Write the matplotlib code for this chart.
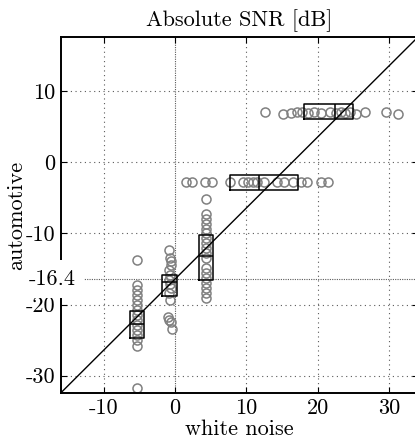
import matplotlib
matplotlib.use("Agg")
import matplotlib.pyplot as plt
import matplotlib.transforms as mtransforms

plt.rcParams['font.family'] = ['cmr10', 'DejaVu Serif']
plt.rcParams['mathtext.fontset'] = 'cm'
plt.rcParams['axes.formatter.use_mathtext'] = True

# ---- data ----
title = "Absolute SNR [dB]"
xlabel = "white noise"
ylabel = "automotive"
x_ticks = [-10, 0, 10, 20, 30]
x_ticklabels = ["-10", "0", "10", "20", "30"]
y_ticks = [-30, -20, -10, 0, 10]
y_ticklabels = ["-30", "-20", "-10", "0", "10"]
offset = -16.4
offset_label = "-16.4"
xlim = (-16, 34)
ylim = (-32.4, 17.6)

# vertical groups (x nearly constant)
grpA_x = [-5.4] * 15
grpA_y = [-13.8, -17.3, -18.0, -18.7, -19.4, -20.1, -20.8, -21.5, -22.2,
          -22.9, -23.6, -24.3, -25.0, -25.8, -31.8]
grpB_x = [-0.8, -0.7, -0.6, -0.6, -0.8, -0.7, -0.8, -0.7, -0.6, -0.8,
          -0.7, -1.0, -0.8, -0.6, -0.5]
grpB_y = [-12.3, -13.4, -13.9, -14.5, -15.2, -15.9, -16.5, -17.1, -17.7,
          -18.4, -19.4, -21.7, -22.2, -22.4, -23.5]
grpC_x = [4.3] * 18
grpC_y = [-5.1, -7.2, -7.9, -8.6, -9.3, -10.0, -10.7, -11.4, -12.1, -12.8,
          -13.5, -14.9, -15.6, -16.3, -17.0, -17.7, -18.4, -19.1]
# horizontal groups (y nearly constant)
grpD_x = [1.5, 2.3, 4.2, 5.2, 7.7, 9.5, 10.2, 10.9, 11.5, 12.4, 14.3,
          15.3, 16.5, 17.6, 18.5, 20.4, 21.4]
grpD_y = [-2.8] * 17
grpE_x = [12.6, 15.1, 16.3, 17.1, 17.8, 18.6, 19.4, 20.5, 21.7, 22.6,
          23.2, 23.8, 24.5, 25.4, 26.6, 29.6, 31.2]
grpE_y = [7.1, 6.8, 7.0, 7.1, 7.1, 6.9, 7.1, 7.0, 7.1, 6.9, 7.1, 7.0,
          7.1, 6.8, 7.1, 7.1, 6.8]

# box summaries
vbox_pos = [-5.35, -0.8, 4.3]
vbox_q1 = [-24.7, -18.8, -16.6]
vbox_med = [-22.8, -16.8, -13.2]
vbox_q3 = [-20.9, -15.9, -10.2]
hbox_pos = [-2.8, 7.15]
hbox_q1 = [7.7, 18.1]
hbox_med = [11.7, 22.4]
hbox_q3 = [17.2, 24.9]

# ---- figure ----
W, H = 415, 445
FS = 16
fig = plt.figure(figsize=(W / 100, H / 100), dpi=100)
ax = fig.add_axes([61 / W, 52.3 / H, 356.7 / W, 355.4 / H])
ax.set_xlim(*xlim)
ax.set_ylim(*ylim)

grid_kw = dict(color='0.35', lw=0.8, ls=(0, (1, 3.2)), zorder=0)
for xv in x_ticks:
    ax.axvline(xv, **grid_kw)
for yv in y_ticks + [offset]:
    ax.axhline(yv, **grid_kw)
dense_kw = dict(color='0.35', lw=0.8, ls=(2.1, (1, 3.2)), zorder=0)
ax.axvline(0, **dense_kw)
ax.axhline(offset, **dense_kw)

mk = dict(ls='none', marker='o', ms=6.5, mfc='none', mec='#808080', mew=1.1, zorder=2)
for gx, gy in [(grpA_x, grpA_y), (grpB_x, grpB_y), (grpC_x, grpC_y),
               (grpD_x, grpD_y), (grpE_x, grpE_y)]:
    ax.plot(gx, gy, **mk)

ax.axline((0, offset), slope=1, color='black', lw=1.0, zorder=3)

def stats(q1s, meds, q3s):
    return [dict(med=m, q1=a, q3=b, whislo=a, whishi=b, fliers=[])
            for a, m, b in zip(q1s, meds, q3s)]

bkw = dict(showcaps=False, showfliers=False, patch_artist=False,
           boxprops=dict(color='black', lw=1.1),
           medianprops=dict(color='black', lw=1.1),
           whiskerprops=dict(color='black', lw=0), manage_ticks=False, zorder=4)
ax.bxp(stats(vbox_q1, vbox_med, vbox_q3), positions=vbox_pos, widths=2.0,
       orientation='vertical', **bkw)
ax.bxp(stats(hbox_q1, hbox_med, hbox_q3), positions=hbox_pos, widths=2.05,
       orientation='horizontal', **bkw)

ax.set_xticks(x_ticks)
ax.set_xticklabels(x_ticklabels)
ax.set_yticks(y_ticks)
ax.set_yticklabels(y_ticklabels)
ax.tick_params(direction='in', length=4, width=0.8, labelsize=FS,
               top=True, right=True, pad=4)
for s in ['left', 'bottom', 'top', 'right']:
    ax.spines[s].set_linewidth(1.4)

trans = mtransforms.blended_transform_factory(ax.transAxes, ax.transData)
ax.text(0.04, offset, offset_label, transform=trans, ha='right', va='center',
        fontsize=FS, clip_on=False, zorder=10,
        bbox=dict(boxstyle='square,pad=0.4', fc='white', ec='none'))

ax.set_title(title, fontsize=FS, pad=8)
ax.set_xlabel(xlabel, fontsize=FS, labelpad=1)
fig.text(16 / W, 1 - 215 / H, ylabel, rotation=90, ha='center', va='center',
         fontsize=FS, zorder=20)

fig.savefig("out.png", dpi=100)
